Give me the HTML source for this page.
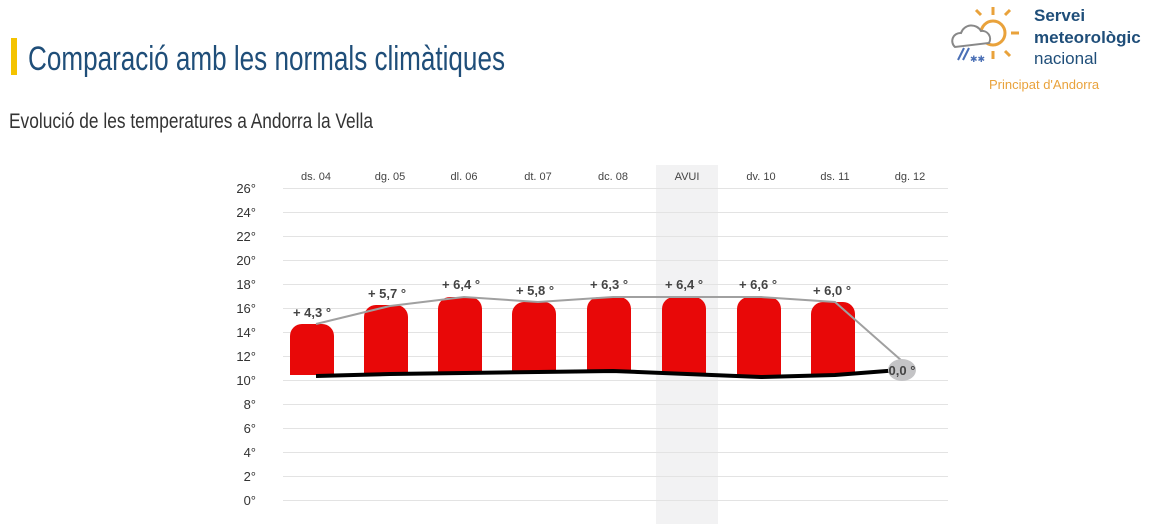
<!DOCTYPE html>
<html><head><meta charset="utf-8"><style>
body{margin:0;width:1161px;height:524px;background:#fff;overflow:hidden;font-family:"Liberation Sans",sans-serif}
</style></head><body>
<svg width="1161" height="524" xmlns="http://www.w3.org/2000/svg" font-family="Liberation Sans, sans-serif">
<rect x="656" y="165" width="62" height="359" fill="#f2f2f3"/>
<rect x="11" y="38" width="6" height="37" fill="#f4c300"/>
<text x="28" y="70" font-size="34" fill="#1f4e79" textLength="477" lengthAdjust="spacingAndGlyphs">Comparació amb les normals climàtiques</text>
<text x="9" y="128" font-size="21" fill="#333" textLength="364" lengthAdjust="spacingAndGlyphs">Evolució de les temperatures a Andorra la Vella</text>
<!-- logo -->
<g stroke="#e9a23b" stroke-width="3" fill="none">
<circle cx="993" cy="33" r="12"/>
<line x1="993" y1="7" x2="993" y2="15"/><line x1="993" y1="51" x2="993" y2="59"/>
<line x1="1011" y1="33" x2="1019" y2="33"/><line x1="1005" y1="15" x2="1010" y2="10"/><line x1="1005" y1="51" x2="1010" y2="56"/><line x1="981" y1="15" x2="976" y2="10"/>
</g>
<path d="M955 47 a8 8 0 0 1 6-14 a11 11 0 0 1 20-2 a8 8 0 0 1 8 12 z" fill="#fff" stroke="#888" stroke-width="2"/>
<g stroke="#4a6fb5" stroke-width="2"><line x1="958" y1="60" x2="964" y2="48"/><line x1="963" y1="60" x2="969" y2="48"/></g>
<text x="970" y="62" font-size="9" fill="#4a6fb5">✱✱</text>
<text x="1034" y="21" font-size="17" font-weight="bold" fill="#1f4e79">Servei</text>
<text x="1034" y="43" font-size="17" font-weight="bold" fill="#1f4e79">meteorològic</text>
<text x="1034" y="64" font-size="17" fill="#1f4e79">nacional</text>
<text x="989" y="89" font-size="13" fill="#e9a23b">Principat d'Andorra</text>
<!-- grid -->
<g stroke="#e3e3e3" stroke-width="1">
<line x1="283" y1="188.5" x2="948" y2="188.5"/><line x1="283" y1="212.5" x2="948" y2="212.5"/><line x1="283" y1="236.5" x2="948" y2="236.5"/><line x1="283" y1="260.5" x2="948" y2="260.5"/><line x1="283" y1="284.5" x2="948" y2="284.5"/><line x1="283" y1="308.5" x2="948" y2="308.5"/><line x1="283" y1="332.5" x2="948" y2="332.5"/><line x1="283" y1="356.5" x2="948" y2="356.5"/><line x1="283" y1="380.5" x2="948" y2="380.5"/><line x1="283" y1="404.5" x2="948" y2="404.5"/><line x1="283" y1="428.5" x2="948" y2="428.5"/><line x1="283" y1="452.5" x2="948" y2="452.5"/><line x1="283" y1="476.5" x2="948" y2="476.5"/><line x1="283" y1="500.5" x2="948" y2="500.5"/>
</g>
<g font-size="13" fill="#333" text-anchor="end">
<text x="256" y="193">26°</text><text x="256" y="217">24°</text><text x="256" y="241">22°</text><text x="256" y="265">20°</text><text x="256" y="289">18°</text><text x="256" y="313">16°</text><text x="256" y="337">14°</text><text x="256" y="361">12°</text><text x="256" y="385">10°</text><text x="256" y="409">8°</text><text x="256" y="433">6°</text><text x="256" y="457">4°</text><text x="256" y="481">2°</text><text x="256" y="505">0°</text>
</g>
<g font-size="11" fill="#444" text-anchor="middle">
<text x="316" y="180">ds. 04</text><text x="390" y="180">dg. 05</text><text x="464" y="180">dl. 06</text><text x="538" y="180">dt. 07</text><text x="613" y="180">dc. 08</text><text x="687" y="180">AVUI</text><text x="761" y="180">dv. 10</text><text x="835" y="180">ds. 11</text><text x="910" y="180">dg. 12</text>
</g>
<g fill="#e80808">
<path d="M290 375 V336 a12 12 0 0 1 12 -12 H322 a12 12 0 0 1 12 12 V375 z"/>
<path d="M364 374 V317 a12 12 0 0 1 12 -12 H396 a12 12 0 0 1 12 12 V374 z"/>
<path d="M438 373 V309 a12 12 0 0 1 12 -12 H470 a12 12 0 0 1 12 12 V373 z"/>
<path d="M512 372 V314 a12 12 0 0 1 12 -12 H544 a12 12 0 0 1 12 12 V372 z"/>
<path d="M587 372 V309 a12 12 0 0 1 12 -12 H619 a12 12 0 0 1 12 12 V372 z"/>
<path d="M662 373 V309 a12 12 0 0 1 12 -12 H694 a12 12 0 0 1 12 12 V373 z"/>
<path d="M737 375 V309 a12 12 0 0 1 12 -12 H769 a12 12 0 0 1 12 12 V375 z"/>
<path d="M811 374 V314 a12 12 0 0 1 12 -12 H843 a12 12 0 0 1 12 12 V374 z"/>
</g>
<polyline points="316,376 390,374 464,373 538,372 613,371 687,374 761,377 835,375 900,370" fill="none" stroke="#000" stroke-width="4"/>
<polyline points="316,324 390,306 464,297 538,302 613,297 687,297 761,297 835,302 910,368" fill="none" stroke="#a0a0a0" stroke-width="2"/>
<ellipse cx="902" cy="370" rx="14" ry="11" fill="#c4c4c6"/>
<g font-size="13" font-weight="bold" fill="#444" text-anchor="middle">
<text x="312" y="317">+ 4,3 °</text><text x="387" y="298">+ 5,7 °</text><text x="461" y="289">+ 6,4 °</text><text x="535" y="295">+ 5,8 °</text><text x="609" y="289">+ 6,3 °</text><text x="684" y="289">+ 6,4 °</text><text x="758" y="289">+ 6,6 °</text><text x="832" y="295">+ 6,0 °</text><text x="902" y="375">0,0 °</text>
</g>
</svg>
</body></html>
